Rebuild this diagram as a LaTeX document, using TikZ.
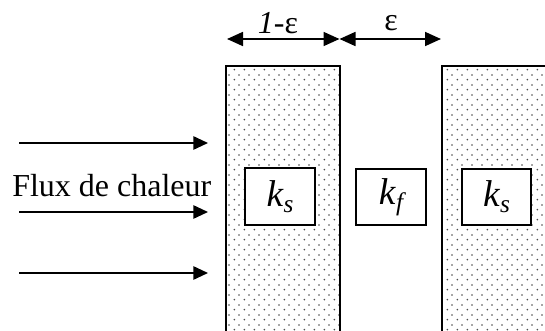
\documentclass[tikz,border=0pt]{standalone}
\usepackage{fontspec}
\setmainfont{Liberation Serif}
\usetikzlibrary{arrows.meta,patterns}
\pgfdeclarepatternformonly{slabdots}{\pgfpointorigin}{\pgfpoint{7.6pt}{7.6pt}}{\pgfpoint{7.6pt}{7.6pt}}{%
  \pgfpathcircle{\pgfpoint{1.9pt}{1.9pt}}{0.75pt}%
  \pgfpathcircle{\pgfpoint{5.7pt}{5.7pt}}{0.75pt}%
  \pgfusepath{fill}%
}
\newcommand{\ksub}[2]{\textit{#1}\raisebox{-0.35ex}{\fontsize{19}{19}\selectfont\itshape #2}}

\begin{document}
\begin{tikzpicture}[x=0.75pt,y=-0.75pt, font=\fontsize{24}{26}\selectfont,
      slab/.style={pattern=slabdots,pattern color=black!70},
      kbox/.style={draw,line width=1.6pt,fill=white,minimum width=52pt,minimum height=42.5pt,inner sep=0pt,font=\fontsize{28}{29}\selectfont},
      heat/.style={-{Triangle[length=11pt,width=10pt]},line width=1.3pt},
      span/.style={{Triangle[length=12pt,width=10.5pt]}-{Triangle[length=12pt,width=10.5pt]},line width=1.3pt}]
    \useasboundingbox (0,0) rectangle (545,331);
    % slabs (open at the bottom)
    \fill[slab] (226,66) rectangle (340,332);
    \draw[line width=1.8pt] (226,332) -- (226,66) -- (340,66) -- (340,332);
    \fill[slab] (442,66) rectangle (546,332);
    \draw[line width=1.8pt] (442,332) -- (442,66) -- (546,66);
    % conductivities
    \node[kbox] (ksleft) at (280,196.5) {\ksub{k}{s}};
    \node[kbox] (kf) at (391,197) {\ksub{k}{f}};
    \node[kbox] (ksright) at (496.5,197) {\ksub{k}{s}};
    % widths
    \coordinate (w0) at (227,39);
    \coordinate (w1) at (339.5,39);
    \coordinate (w2) at (441,39);
    \draw[span] (w0) -- (w1);
    \draw[span] (w1) -- (w2);
    \node (solid) at (278,23) {\textit{1}-ε};
    \node (fluid) at (391,23) {ε};
    % heat flux
    \node[anchor=base west,inner sep=0pt] (flux) at (12,196) {Flux de chaleur};
    \foreach \y/\n in {143/a,212/b,273/c} {
      \coordinate (in\n) at (19,\y);
      \coordinate (out\n) at (208,\y);
      \draw[heat] (in\n) -- (out\n);
    }
  \end{tikzpicture}
\end{document}
